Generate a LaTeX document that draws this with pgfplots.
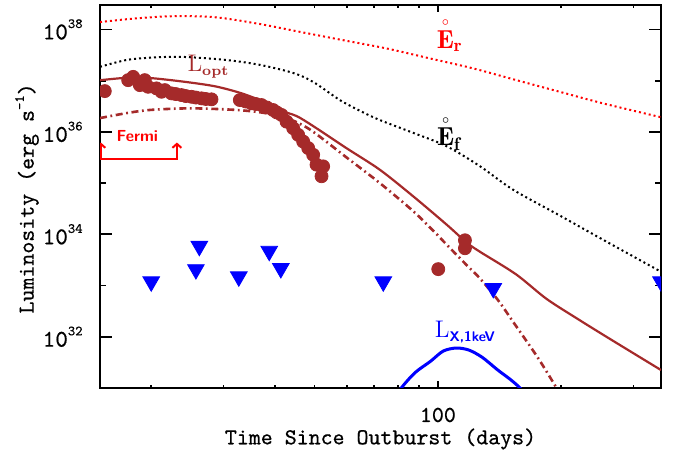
\documentclass[border=0pt]{standalone}
\usepackage{amsmath}
\usepackage{fontspec}
\usepackage{pgfplots}
\pgfplotsset{compat=1.18}
\usetikzlibrary{arrows.meta}
\newfontfamily\labfont{lmmono10-regular.otf}[FakeBold=0.6]
\definecolor{brn}{RGB}{165,42,42}
\newcommand\tp[1]{\fontsize{12}{12}\selectfont\labfont 10\raisebox{1.1ex}{\fontsize{7}{7}\selectfont #1}}
\begin{document}
\begin{tikzpicture}
\begin{axis}[
  at={(0,0)}, anchor=south west,
  scale only axis, width=280.5pt, height=191.5pt,
  xmode=log, ymode=log,
  xmin=15, xmax=350, ymin=1e31, ymax=3e38,
  axis line style={line width=1pt},
  every tick/.style={black, line width=0.9pt},
  xtick={100}, xticklabels={100},
  minor xtick={20,30,40,50,60,70,80,90,200,300},
  ytick={1e32,1e34,1e36,1e38},
  yticklabels={\tp{32},\tp{34},\tp{36},\tp{38}},
  minor ytick={1e33,1e35,1e37},
  xtick style={/pgfplots/major tick length=3.4pt,/pgfplots/minor tick length=1.7pt},
  ytick style={/pgfplots/major tick length=5.8pt,/pgfplots/minor tick length=3pt},
  xticklabel style={anchor=center, yshift=-13.5pt, inner sep=0pt, font=\fontsize{11.4}{12}\selectfont\labfont},
  yticklabel style={anchor=east, xshift=-8.5pt, inner sep=0pt},
  clip mode=individual,
  clip marker paths=true,
]
% E_r (red dotted)
\addplot[red, line width=1pt, dash pattern=on 1pt off 1.5pt, smooth] coordinates {
(15,1.39e38) (18,1.62e38) (22.5,1.81e38) (28.6,1.73e38) (36.5,1.29e38) (46.4,8.87e37)
(59.1,6.11e37) (75.3,4.22e37) (95.9,2.70e37) (122.1,1.73e37) (155.6,1.02e37)
(198,6.07e36) (252.4,3.61e36) (350,1.93e36)};
% E_f (black dotted)
\addplot[black, line width=1pt, dash pattern=on 1pt off 1.5pt, smooth] coordinates {
(15,1.86e37) (17.6,2.57e37) (21.2,2.88e37) (24.6,2.88e37) (30.8,2.51e37) (37.2,2.00e37)
(44.8,1.38e37) (50,9.12e36) (57.7,4.17e36) (65,2.51e36) (72.2,1.70e36) (87.1,9.55e35)
(105,5.25e35) (126.6,2.14e35) (152.6,7.41e34) (198,2.34e34) (252,7.94e33) (350,1.86e33)};
% L_opt (solid)
\addplot[brn, line width=1.1pt, smooth] coordinates {
(15,1.02e37) (17.7,1.15e37) (20,1.12e37) (24,9.55e36) (28.6,7.76e36) (33,5.75e36)
(37,4.07e36) (41.2,2.63e36) (45.2,2.04e36) (49.7,1.29e36) (59.9,4.79e35) (72.2,1.82e35)
(87.1,5.50e34) (105,1.55e34) (117.5,6.92e33) (126.6,4.57e33) (155,1.66e33) (184,5.50e32)
(220,2.19e32) (260,9.55e31) (350,2.24e31)};
% dash-dot
\addplot[brn, line width=1.3pt, dash pattern=on 3.5pt off 1.8pt on 0.9pt off 1.8pt, smooth] coordinates {
(15,1.86e36) (17.5,2.34e36) (20,2.69e36) (25,2.88e36) (32,2.69e36) (37,2.40e36)
(41,2.04e36) (45,1.58e36) (49.7,1.00e36) (59.9,3.16e35) (72.2,1.00e35) (87.1,2.82e34)
(98,1.12e34) (105,6.31e33) (117.5,2.51e33) (126.6,1.38e33) (140,5.25e32) (152.6,1.95e32)
(175,3.98e31) (195,9.77e30) (215,2.51e30)};
% L_X,1keV (blue)
\addplot[blue, line width=1.5pt, smooth] coordinates {
(75,3.98e30) (81.4,1.00e31) (88,2.00e31) (95.9,3.31e31) (103,5.25e31) (110.9,6.03e31)
(119,5.50e31) (128.2,3.98e31) (140,2.24e31) (150,1.48e31) (158.6,1.00e31) (170,5.25e30)};
% Fermi bracket
\addplot[red, line width=1pt, {Straight Barb[length=2pt,width=4.5pt]}-{Straight Barb[length=2pt,width=4.5pt]}] coordinates {
(15.07,6.2e35) (15.07,2.95e35) (23.1,2.95e35) (23.1,6.2e35)};
% optical data
\addplot[only marks, mark=*, mark size=3.25pt, mark options={draw=brn, fill=brn}] coordinates {
(15.41,6.25e36) (17.57,1.023e37) (18.07,1.185e37) (18.76,8.18e36) (19.29,1.023e37)
(19.65,7.59e36) (20.60,7.06e36) (21.19,6.07e36) (21.59,6.54e36) (22.41,5.64e36)
(22.96,5.47e36) (23.71,5.23e36) (24.29,5.00e36) (25.08,4.84e36) (25.70,4.68e36)
(26.53,4.51e36) (27.18,4.38e36) (28.05,4.32e36) (32.89,4.18e36) (34.02,3.91e36)
(35.13,3.61e36) (35.98,3.50e36) (37.15,3.34e36) (38.29,2.99e36) (39.66,2.67e36)
(40.49,2.39e36) (41.57,2.14e36) (42.76,1.58e36) (44.37,1.18e36) (45.63,8.75e35)
(46.93,6.48e35) (48.27,4.83e35) (49.64,3.57e35) (50.59,2.29e35) (52.50,2.12e35)
(52.03,1.36e35) (100.2,2.09e33) (116.4,7.65e33) (116.4,5.35e33)};
% X-ray upper limits
\addplot[only marks, mark=triangle*, mark size=4.8pt, mark options={rotate=180, draw=blue, fill=blue}] coordinates {
(20.0,1.19e33) (25.7,2.06e33) (26.2,5.87e33) (32.7,1.49e33) (38.8,4.70e33)
(41.4,2.16e33) (73.6,1.19e33) (136.5,8.83e32) (350,1.19e33)};
% labels
\node[text=red] at (axis cs:106.9,7.94e37) {\fontsize{13}{13}\selectfont$\overset{\scriptscriptstyle\circ}{\mathbf{E}}_{\mathbf{r}}$};
\node[text=black] at (axis cs:106.4,9.55e35) {\fontsize{13}{13}\selectfont$\overset{\scriptscriptstyle\circ}{\mathbf{E}}_{\mathbf{f}}$};
\node[text=brn] at (axis cs:27.5,1.9e37) {\fontsize{12}{12}\selectfont L\raisebox{-0.35ex}{\fontsize{7}{7}\selectfont\bfseries opt}};
\node[text=blue] at (axis cs:116.4,1.26e32) {\fontsize{12}{12}\selectfont L\raisebox{-0.4ex}{\fontsize{7}{7}\selectfont\sffamily\bfseries X,1keV}};
\node[text=red] at (axis cs:18.5,8.3e35) {\fontsize{8}{8}\selectfont\sffamily\bfseries Fermi};
\node[font=\fontsize{11.4}{12}\selectfont\labfont] at (axis description cs:0.5,-0.1332) {Time Since Outburst (days)};
\node[rotate=90, font=\fontsize{11.4}{12}\selectfont\labfont] at (axis description cs:-0.1301,0.495) {Luminosity (erg s\raisebox{1ex}{\fontsize{7}{7}\selectfont -1})};
\end{axis}
\pgfresetboundingbox
\useasboundingbox (-50pt,-32pt) rectangle (287.5pt,194pt);
\end{tikzpicture}
\end{document}
